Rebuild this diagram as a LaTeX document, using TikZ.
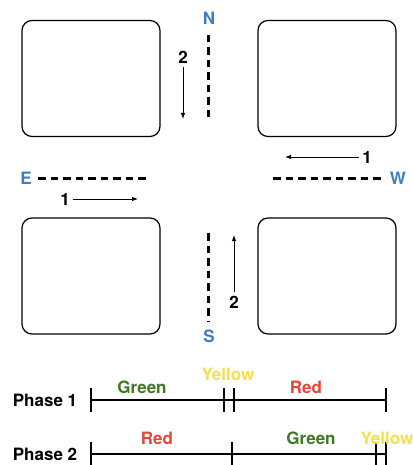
\documentclass[tikz,border=0pt]{standalone}
\usepackage{fontspec}
\setmainfont{TeX Gyre Heros}
\usetikzlibrary{arrows.meta}
\definecolor{dirblue}{HTML}{3D7DC2}
\definecolor{lightgreen}{HTML}{3B7A23}
\definecolor{lightred}{HTML}{E5463A}
\definecolor{lightyellow}{HTML}{F5E04A}
\def\blockw{138pt}
\def\blockh{116pt}
\def\tickh{12pt}

\begin{document}
\begin{tikzpicture}[x=1pt, y=-1pt,
		font=\bfseries\fontsize{17}{20}\selectfont,
		block/.style={draw, line width=1.2pt, rounded corners=10pt, minimum width=\blockw, minimum height=\blockh},
		lane/.style={line width=3pt, dash pattern=on 7.5pt off 5pt},
		flow/.style={-{Latex[length=6pt,width=4.5pt]}, line width=0.9pt},
		timeline/.style={line width=1.2pt}]
		\useasboundingbox (0,0) rectangle (412,465);
		% city blocks
		\node[block] (nw) at (91,78.5) {};
		\node[block] (ne) at (327,78.5) {};
		\node[block] (sw) at (91,276) {};
		\node[block] (se) at (327,276) {};
		% directions
		\node[text=dirblue] (n) at (209,18) {N};
		\node[text=dirblue] (s) at (209,336) {S};
		\node[text=dirblue] (e) at (26,178) {E};
		\node[text=dirblue] (w) at (398,178) {W};
		% lane markings
		\coordinate (n1) at (208,35);   \coordinate (n2) at (208,122);
		\coordinate (s1) at (208,233);  \coordinate (s2) at (208,321);
		\coordinate (e1) at (38,178);   \coordinate (e2) at (146,178);
		\coordinate (w1) at (273,178);  \coordinate (w2) at (381,178);
		\draw[lane] (n1) -- (n2);
		\draw[lane] (s1) -- (s2);
		\draw[lane] (e1) -- (e2);
		\draw[lane] (w1) -- (w2);
		% traffic flows
		\node (f2n) at (183,57) {2};
		\coordinate (f2nend) at (183,119);
		\node (f2s) at (234,302) {2};
		\coordinate (f2send) at (234,235);
		\node (f1w) at (367,157) {1};
		\coordinate (f1wend) at (285,157);
		\node (f1e) at (65,199) {1};
		\coordinate (f1eend) at (138,199);
		\draw[flow] (f2n) -- (f2nend);
		\draw[flow] (f2s) -- (f2send);
		\draw[flow] (f1w) -- (f1wend);
		\draw[flow] (f1e) -- (f1eend);
		% signal phases
		\node (ph1) at (45,400) {Phase 1};
		\node (ph2) at (45,454) {Phase 2};
		\foreach \x [count=\i] in {91,224,234,386} {
			\coordinate (pa\i) at (\x,400);
			\draw[timeline] ([yshift=\tickh]pa\i) -- ([yshift=-\tickh]pa\i);
		}
		\foreach \x [count=\i] in {91,232,376,386} {
			\coordinate (pb\i) at (\x,454);
			\draw[timeline] ([yshift=\tickh]pb\i) -- ([yshift=-\tickh]pb\i);
		}
		\draw[timeline] (pa1) -- (pa4);
		\draw[timeline] (pb1) -- (pb4);
		\node[text=lightgreen] (g1) at (142,387) {Green};
		\node[text=lightyellow] (y1) at (228,374) {Yellow};
		\node[text=lightred] (r1) at (306,387) {Red};
		\node[text=lightred] (r2) at (157,438) {Red};
		\node[text=lightgreen] (g2) at (311,438) {Green};
		\node[text=lightyellow] (y2) at (387,438) {Yellow};
	\end{tikzpicture}
\end{document}
